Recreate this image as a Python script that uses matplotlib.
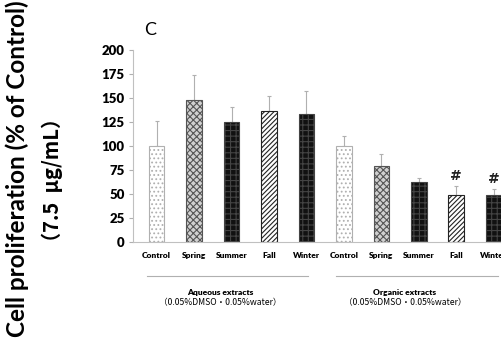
import matplotlib
matplotlib.use("Agg")
import matplotlib.pyplot as plt
import matplotlib.transforms as mtransforms
import numpy as np

categories = ["Control", "Spring", "Summer", "Fall", "Winter",
              "Control", "Spring", "Summer", "Fall", "Winter"]
values = [100, 148, 125, 136, 133, 100, 79.5, 62, 49, 49]
errors = [26, 26, 16, 16, 24, 10, 12, 5, 9, 6]
marks = ["", "", "", "", "", "", "", "", "#", "#"]
groups = ["Aqueous extracts", "Organic extracts"]
group_sub = "（0.05%DMSO・0.05%water）"
yticks = [0, 25, 50, 75, 100, 125, 150, 175, 200]

plt.rcParams['hatch.linewidth'] = 0.8
fig = plt.figure(figsize=(5.02, 3.4), dpi=100)
ax = fig.add_axes([133/502, 1-242/340, 1-133/502, (242-50)/340])

styles = [
    dict(facecolor="white", edgecolor="#b0b0b0", hatch="...."),
    dict(facecolor="#d0d0d0", edgecolor="#555555", hatch="xxxxx"),
    dict(facecolor="#111111", edgecolor="#444444", hatch="+++"),
    dict(facecolor="white", edgecolor="#222222", hatch="///////"),
    dict(facecolor="#111111", edgecolor="#444444", hatch="+++"),
]
x = np.arange(len(values))
for i in range(len(values)):
    st = styles[i % 5]
    ax.bar(x[i], values[i], width=0.42, facecolor=st["facecolor"],
           edgecolor=st["edgecolor"], hatch=st["hatch"], linewidth=0.8, zorder=2)
    ax.errorbar(x[i], values[i], yerr=[[0], [errors[i]]], fmt="none",
                ecolor="#b0b0b0", elinewidth=0.8, capsize=1.5, capthick=0.8, zorder=1)
    if marks[i]:
        ax.text(x[i], values[i] + errors[i] + 3, marks[i], ha="center", va="bottom",
                fontsize=10, fontweight="bold", color="#222222")

ax.set_xlim(-0.63, 9.22)
ax.set_ylim(0, 200)
ax.set_yticks(yticks)
ax.set_yticklabels([str(t) for t in yticks], fontsize=9.5, fontweight="heavy", family="Lato")
ax.set_xticks(x)
ax.set_xticklabels(categories, fontsize=6, fontweight="heavy", family="Lato")
ax.tick_params(axis="x", length=0, pad=7)
ax.tick_params(axis="y", length=3, color="#b0b0b0", pad=3)
for s in ["top", "right"]:
    ax.spines[s].set_visible(False)
ax.spines["left"].set_color("#c0c0c0")
ax.spines["bottom"].set_color("#c0c0c0")

trans = mtransforms.blended_transform_factory(ax.transData, fig.transFigure)
line_spans = [(-0.25, 4.05), (4.8, 9.1)]
label_x = [1.69, 6.63]
for (a, b), lx, g in zip(line_spans, label_x, groups):
    ax.plot([a, b], [1-276/340, 1-276/340], color="#b0b0b0", lw=0.8,
            transform=trans, clip_on=False)
    ax.text(lx, 1-293/340, g, transform=trans, ha="center", va="center",
            fontsize=6, fontweight="heavy", family=["Lato"])
    ax.text(lx, 1-303/340, group_sub, transform=trans, ha="center", va="center",
            fontsize=6.2, family=["Noto Sans CJK JP", "DejaVu Sans"])

fig.text(150/502, 1-30/340, "C", fontsize=13, ha="center", va="center", family="Lato")
fig.text(17/502, 1-169/340, "Cell proliferation (% of Control)", rotation=90,
         ha="center", va="center", fontsize=17.5, fontweight="bold", family="Lato")
fig.text(52/502, 1-180/340, "（7.5  μg/mL）", rotation=90,
         ha="center", va="center", fontsize=14.5, fontweight="bold",
         family=["Noto Sans CJK JP", "DejaVu Sans"])

fig.savefig("out.png", dpi=100)
